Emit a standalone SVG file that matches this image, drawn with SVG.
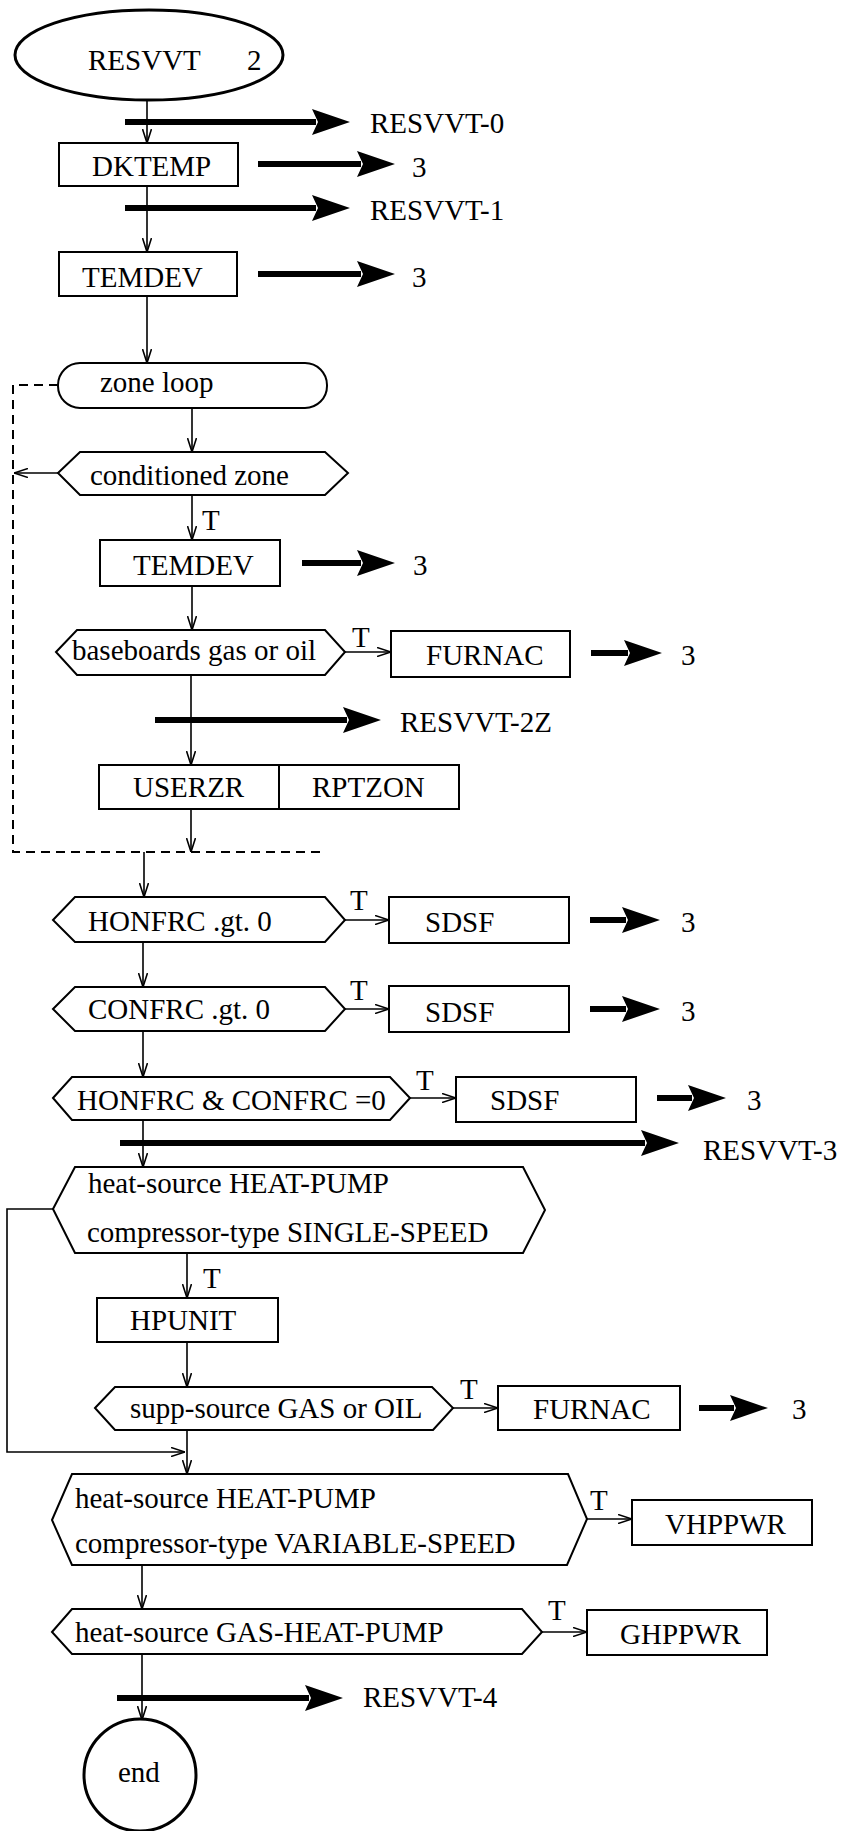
<svg xmlns="http://www.w3.org/2000/svg" width="843" height="1831" viewBox="0 0 843 1831">
<style>
text{font-family:"Liberation Serif","Times New Roman",serif;font-size:29px;fill:#000}
.box{fill:#fff;stroke:#000;stroke-width:2}
.term{fill:#fff;stroke:#000;stroke-width:3}
.c{fill:none;stroke:#000;stroke-width:1.6;marker-end:url(#open)}
.dash{fill:none;stroke:#000;stroke-width:2;stroke-dasharray:9 6}
.thick{fill:none;stroke:#000;stroke-width:6;marker-end:url(#thick)}
</style>
<defs>
<marker id="open" viewBox="0 0 14 10" refX="14" refY="5" markerWidth="14" markerHeight="10" markerUnits="userSpaceOnUse" orient="auto"><path d="M0,0.5 L14,5 L0,9.5" fill="none" stroke="#000" stroke-width="1.6"/></marker>
<marker id="thick" viewBox="0 0 38 26" refX="4" refY="13" markerWidth="38" markerHeight="26" markerUnits="userSpaceOnUse" orient="auto"><path d="M0,0 L38,13 L0,26 L6,13 Z" fill="#000"/></marker>
</defs>

<g id="connectors">
<path class="c" d="M147,100 V143"/>
<path class="c" d="M147,186 V252"/>
<path class="c" d="M147,296 V363"/>
<path class="c" d="M192,408 V452"/>
<path class="c" d="M58,473 H14"/>
<path class="c" d="M192,495 V540"/>
<path class="c" d="M192,586 V630"/>
<path class="c" d="M345,652 H391"/>
<path class="c" d="M191,675 V765"/>
<path class="c" d="M191,809 V852"/>
<path class="c" d="M144,852 V897"/>
<path class="c" d="M345,920 H389"/>
<path class="c" d="M143,942 V987"/>
<path class="c" d="M345,1009 H389"/>
<path class="c" d="M143,1031 V1077"/>
<path class="c" d="M410,1098 H456"/>
<path class="c" d="M143,1120 V1167"/>
<path class="c" d="M187,1253 V1298"/>
<path class="c" d="M187,1342 V1387"/>
<path class="c" d="M453,1408 H498"/>
<path class="c" d="M187,1430 V1474"/>
<path class="c" d="M53,1209 H7 V1452 H185"/>
<path class="c" d="M587,1519 H632"/>
<path class="c" d="M142,1565 V1609"/>
<path class="c" d="M542,1632 H587"/>
<path class="c" d="M142,1654 V1720"/>
<path class="dash" d="M58,385 H13 V852 H323"/>
<path class="thick" d="M125,122 H316"/>
<path class="thick" d="M258,164 H361"/>
<path class="thick" d="M125,208 H316"/>
<path class="thick" d="M258,274 H361"/>
<path class="thick" d="M302,563 H361"/>
<path class="thick" d="M591,653 H628"/>
<path class="thick" d="M155,720 H347"/>
<path class="thick" d="M590,920 H626"/>
<path class="thick" d="M590,1009 H626"/>
<path class="thick" d="M657,1098 H692"/>
<path class="thick" d="M120,1143 H645"/>
<path class="thick" d="M699,1408 H734"/>
<path class="thick" d="M117,1698 H309"/>
<text x="370" y="133">RESVVT-0</text>
<text x="412" y="177">3</text>
<text x="370" y="220">RESVVT-1</text>
<text x="412" y="287">3</text>
<text x="202" y="530">T</text>
<text x="413" y="575">3</text>
<text x="352" y="647">T</text>
<text x="681" y="665">3</text>
<text x="400" y="732">RESVVT-2Z</text>
<text x="350" y="910">T</text>
<text x="681" y="932">3</text>
<text x="350" y="1000">T</text>
<text x="681" y="1021">3</text>
<text x="416" y="1090">T</text>
<text x="747" y="1110">3</text>
<text x="703" y="1160">RESVVT-3</text>
<text x="203" y="1288">T</text>
<text x="460" y="1399">T</text>
<text x="792" y="1419">3</text>
<text x="590" y="1510">T</text>
<text x="548" y="1620">T</text>
<text x="363" y="1707">RESVVT-4</text>
</g>

<g id="start"><ellipse class="term" cx="149" cy="55" rx="134" ry="45"/><text x="88" y="70">RESVVT</text><text x="247" y="70">2</text></g>
<g id="dktemp"><rect class="box" x="59" y="143" width="179" height="43"/><text x="92" y="176">DKTEMP</text></g>
<g id="temdev1"><rect class="box" x="59" y="252" width="178" height="44"/><text x="82" y="287">TEMDEV</text></g>
<g id="zoneloop"><rect class="box" x="58" y="363" width="269" height="45" rx="22" ry="22"/><text x="100" y="392">zone loop</text></g>
<g id="condzone"><polygon class="box" points="58,473 80,452 325,452 348,473 325,495 80,495"/><text x="90" y="485">conditioned zone</text></g>
<g id="temdev2"><rect class="box" x="100" y="540" width="180" height="46"/><text x="133" y="575">TEMDEV</text></g>
<g id="baseboards"><polygon class="box" points="56,652 77,630 325,630 345,652 325,675 77,675"/><text x="72" y="660">baseboards gas or oil</text></g>
<g id="furnac1"><rect class="box" x="391" y="631" width="179" height="46"/><text x="426" y="665">FURNAC</text></g>
<g id="userzr"><rect class="box" x="99" y="765" width="360" height="44"/><line x1="279" y1="765" x2="279" y2="809" stroke="#000" stroke-width="2"/><text x="133" y="797">USERZR</text><text x="312" y="797">RPTZON</text></g>
<g id="honfrc"><polygon class="box" points="53,920 75,897 325,897 345,920 325,942 75,942"/><text x="88" y="931">HONFRC .gt. 0</text></g>
<g id="sdsf1"><rect class="box" x="389" y="897" width="180" height="46"/><text x="425" y="932">SDSF</text></g>
<g id="confrc"><polygon class="box" points="53,1009 75,987 325,987 345,1009 325,1031 75,1031"/><text x="88" y="1019">CONFRC .gt. 0</text></g>
<g id="sdsf2"><rect class="box" x="389" y="986" width="180" height="46"/><text x="425" y="1022">SDSF</text></g>
<g id="both0"><polygon class="box" points="53,1098 72,1077 390,1077 410,1098 390,1120 72,1120"/><text x="77" y="1110">HONFRC &amp; CONFRC =0</text></g>
<g id="sdsf3"><rect class="box" x="456" y="1077" width="180" height="45"/><text x="490" y="1110">SDSF</text></g>
<g id="hpsingle"><polygon class="box" points="53,1209 75,1167 523,1167 545,1210 523,1253 75,1253"/><text x="88" y="1193">heat-source HEAT-PUMP</text><text x="87" y="1242">compressor-type SINGLE-SPEED</text></g>
<g id="hpunit"><rect class="box" x="97" y="1298" width="181" height="44"/><text x="130" y="1330">HPUNIT</text></g>
<g id="supp"><polygon class="box" points="95,1408 115,1387 432,1387 453,1408 433,1430 115,1430"/><text x="130" y="1418">supp-source GAS or OIL</text></g>
<g id="furnac2"><rect class="box" x="498" y="1386" width="182" height="44"/><text x="533" y="1419">FURNAC</text></g>
<g id="hpvar"><polygon class="box" points="52,1520 72,1474 568,1474 587,1519 567,1565 72,1565"/><text x="75" y="1508">heat-source HEAT-PUMP</text><text x="75" y="1553">compressor-type VARIABLE-SPEED</text></g>
<g id="vhppwr"><rect class="box" x="632" y="1500" width="180" height="45"/><text x="665" y="1534">VHPPWR</text></g>
<g id="gashp"><polygon class="box" points="52,1632 72,1609 522,1609 542,1632 522,1654 72,1654"/><text x="75" y="1642">heat-source GAS-HEAT-PUMP</text></g>
<g id="ghppwr"><rect class="box" x="587" y="1610" width="180" height="45"/><text x="620" y="1644">GHPPWR</text></g>
<g id="end"><circle class="term" cx="140" cy="1775" r="56"/><text x="118" y="1782">end</text></g>
</svg>
